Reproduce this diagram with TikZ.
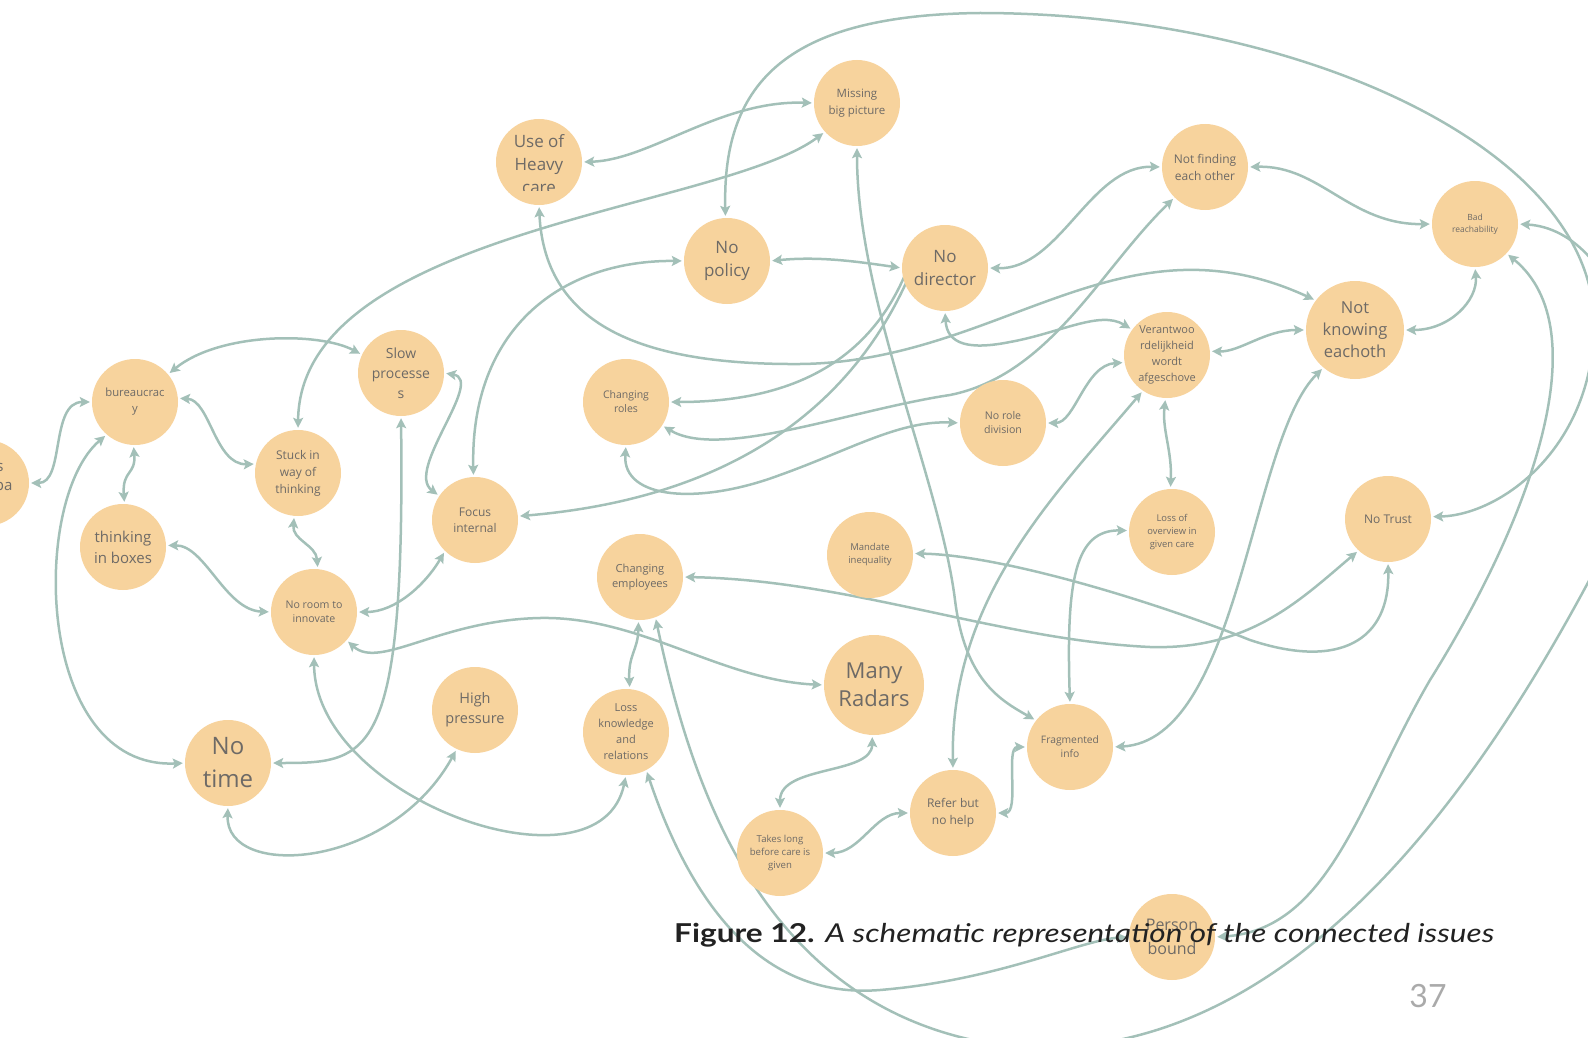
\documentclass[tikz,border=0pt]{standalone}
\usepackage{fontspec}
\setmainfont{Open Sans}
\newfontfamily\capfont{Lato}
\usetikzlibrary{arrows.meta}
\definecolor{nodefill}{HTML}{F7D39D}
\definecolor{edgecol}{HTML}{A3C0B8}
\definecolor{txtcol}{HTML}{6E6A66}
\definecolor{capcol}{HTML}{222222}
\definecolor{pagecol}{HTML}{AAAAAA}
\pgfdeclarelayer{bg}
\pgfsetlayers{bg,main}
\newcommand{\fsz}[2]{\fontsize{#1}{#2}\selectfont}
\begin{document}
\begin{tikzpicture}[x=1pt,y=-1pt,
 issue/.style={circle, fill=nodefill, minimum size=86pt, inner sep=0pt, text=txtcol, align=center},
 bigissue/.style={issue, minimum size=98pt},
 huge/.style={issue, minimum size=100pt},
 link/.style={draw=edgecol, line width=2.5pt, {Stealth[length=10pt,width=10pt,inset=2pt]}-{Stealth[length=10pt,width=10pt,inset=2pt]}, shorten <=2pt, shorten >=2pt}
]
\path[use as bounding box] (0,0) rectangle (1588,1038);
\clip (0,0) rectangle (1588,1038);

% nodes
\node[issue] (lft) at (-14,483) {};
\node[anchor=base east, text=txtcol, font=\fsz{15}{19}] (lfta) at (7,471) {s};
\node[anchor=base east, text=txtcol, font=\fsz{15}{19}] (lftb) at (16,490) {pa};
\node[issue, font=\fsz{11.3}{16}] (bur) at (135,402) {bureaucrac\\y};
\node[issue, font=\fsz{14}{20}] (slow) at (401,373) {Slow\\processe\\s};
\node[issue, font=\fsz{12}{17}] (stuck) at (298,473) {Stuck in\\way of\\thinking};
\node[issue, font=\fsz{15}{21}] (boxes) at (123,547) {thinking\\in boxes};
\node[issue, font=\fsz{10.6}{14.5}] (noroom) at (314,612) {No room to\\innovate};
\node[issue] (heavy) at (539,162) {};
\begin{scope}
\clip (490,110) rectangle (590,190);
\node[text=txtcol, align=center, font=\fsz{17}{23}] (heavytxt) at (539,164) {Use of\\Heavy\\care};
\end{scope}
\node[issue, font=\fsz{12}{16}] (focus) at (475,520) {Focus\\internal};
\node[issue, font=\fsz{11.5}{17}] (missing) at (857,103) {Missing\\big picture};
\node[issue, font=\fsz{17}{23}] (policy) at (727,261) {No\\policy};
\node[issue, font=\fsz{17}{23}] (director) at (945,268) {No\\director};
\node[issue, font=\fsz{12}{17}] (notfinding) at (1205,167) {Not finding\\each other};
\node[issue, font=\fsz{8.5}{12}] (bad) at (1475,224) {Bad\\reachability};
\node[bigissue, font=\fsz{16.5}{22}] (knowing) at (1355,330) {Not\\knowing\\eachoth};
\node[issue, font=\fsz{11}{16}] (verant) at (1167,355) {Verantwoo\\rdelijkheid\\wordt\\afgeschove};
\node[issue, font=\fsz{10.5}{14}] (roles) at (626,402) {Changing\\roles};
\node[issue, font=\fsz{10.6}{14}] (norole) at (1003,423) {No role\\division};
\node[issue, font=\fsz{9.5}{13}] (mandate) at (870,555) {Mandate\\inequality};
\node[issue, font=\fsz{11.1}{15}] (employees) at (640,577) {Changing\\employees};
\node[issue, font=\fsz{9.4}{13}] (lossover) at (1172,532) {Loss of\\overview in\\given care};
\node[issue, font=\fsz{12}{16}] (notrust) at (1388,519) {No Trust};
\node[huge, font=\fsz{22}{28}] (radars) at (874,685) {Many\\Radars};
\node[issue, font=\fsz{24}{33}] (notime) at (228,763) {No\\time};
\node[issue, font=\fsz{14.5}{20}] (pressure) at (475,710) {High\\pressure};
\node[issue, font=\fsz{11}{16}] (lossknow) at (626,732) {Loss\\knowledge\\and\\relations};
\node[issue, font=\fsz{9.6}{13.3}] (takes) at (780,853) {Takes long\\before care is\\given};
\node[issue, font=\fsz{12}{17}] (refer) at (953,813) {Refer but\\no help};
\node[issue, font=\fsz{10.3}{14}] (frag) at (1070,747) {Fragmented\\info};
\node[issue, font=\fsz{16}{24}] (person) at (1172,937) {Person\\bound};

% connectors
\begin{pgfonlayer}{bg}
\clip (0,0) rectangle (1588,1038);
\draw[link] (lft.0) .. controls (65,483) and (50,402) .. (bur.180);
\draw[link] (bur.40) .. controls (220,332) and (320,332) .. (slow.155);
\draw[link] (bur.5) .. controls (210,400) and (215,465) .. (stuck.168);
\draw[link] (bur.268) .. controls (136,475) and (122,470) .. (boxes.88);
\draw[link] (bur.229) .. controls (30,500) and (35,770) .. (notime.180);
\draw[link] (slow.0) .. controls (485,380) and (405,470) .. (focus.146);
\draw[link] (slow.270) .. controls (405,760) and (370,763) .. (notime.0);
\draw[link] (stuck.265) .. controls (292,540) and (316,545) .. (noroom.85);
\draw[link] (boxes.2) .. controls (205,545) and (225,610) .. (noroom.180);
\draw[link] (focus.226) .. controls (425,585) and (395,612) .. (noroom.0);
\draw[link] (missing.222) .. controls (720,210) and (300,230) .. (stuck.90);
\draw[link] (heavy.0) .. controls (650,160) and (720,100) .. (missing.180);
\draw[link] (heavy.270) .. controls (545,330) and (650,365) .. (800,364) .. controls (1000,362) and (1120,210) .. (knowing.143);
\draw[link] (policy.0) .. controls (820,256) and (860,262) .. (director.180);
\draw[link] (policy.92) .. controls (722,80) and (790,15) .. (980,13) .. controls (1300,13) and (1600,150) .. (1594,330) .. controls (1590,450) and (1500,515) .. (notrust.3);
\draw[link] (employees.291) .. controls (690,780) and (760,1010) .. (1000,1045) .. controls (1300,1080) and (1500,750) .. (1600,560) .. controls (1680,400) and (1620,230) .. (bad.0);
\draw[link] (lossknow.298) .. controls (690,900) and (760,1000) .. (880,990) .. controls (1000,980) and (1080,940) .. (person.180);
\draw[link] (person.0) .. controls (1330,930) and (1360,800) .. (1430,680) .. controls (1530,520) and (1600,330) .. (bad.317);
\draw[link] (missing.270) .. controls (857,300) and (940,480) .. (955,600) .. controls (965,680) and (1000,700) .. (frag.142);
\draw[link] (verant.5) .. controls (1240,352) and (1265,330) .. (knowing.180);
\draw[link] (knowing.0) .. controls (1450,330) and (1478,300) .. (bad.270);
\draw[link] (notfinding.0) .. controls (1320,165) and (1350,225) .. (bad.180);
\draw[link] (director.0) .. controls (1060,270) and (1090,165) .. (notfinding.180);
\draw[link] (director.270) .. controls (947,345) and (970,350) .. (1010,342) .. controls (1060,333) and (1100,310) .. (verant.144);
\draw[link] (verant.268) .. controls (1162,430) and (1172,450) .. (lossover.92);
\draw[link] (norole.0) .. controls (1075,423) and (1085,365) .. (verant.190);
\draw[link] (lossover.178) .. controls (1075,530) and (1066,580) .. (frag.90);
\draw[link] (mandate.2) .. controls (1000,555) and (1150,600) .. (1250,640) .. controls (1340,670) and (1390,640) .. (notrust.270);
\draw[link] (employees.0) .. controls (850,580) and (1000,640) .. (1150,647) .. controls (1250,650) and (1300,600) .. (notrust.227);
\draw[link] (noroom.319) .. controls (380,670) and (440,620) .. (540,618) .. controls (640,616) and (720,680) .. (radars.180);
\draw[link] (radars.268) .. controls (872,775) and (780,765) .. (takes.90);
\draw[link] (takes.0) .. controls (860,853) and (875,813) .. (refer.180);
\draw[link] (refer.0) .. controls (1020,813) and (1005,747) .. (frag.180);
\draw[link] (verant.236) .. controls (1050,500) and (950,600) .. (refer.90);
\draw[link] (knowing.230) .. controls (1250,440) and (1240,740) .. (frag.0);
\draw[link] (employees.268) .. controls (638,650) and (628,655) .. (lossknow.85);
\draw[link] (noroom.270) .. controls (315,800) and (600,900) .. (lossknow.270);
\draw[link] (notime.270) .. controls (225,880) and (390,870) .. (pressure.245);
\draw[link] (policy.180) .. controls (560,260) and (470,330) .. (focus.92);
\draw[link] (roles.0) .. controls (780,402) and (880,370) .. (director.127);
\draw[link] (focus.5) .. controls (650,505) and (850,460) .. (director.115);
\draw[link] (roles.270) .. controls (622,500) and (700,505) .. (780,475) .. controls (850,450) and (900,420) .. (norole.180);
\draw[link] (roles.327) .. controls (720,460) and (850,410) .. (950,395) .. controls (1050,375) and (1100,270) .. (notfinding.225);
\end{pgfonlayer}

% caption
\node[anchor=base west, text=capcol, font=\capfont\fsz{26}{30}, inner sep=0pt] (cap) at (674,942) {\scalebox{1.215}[1]{\textbf{Figure 12.} \textit{A schematic representation of the connected issues}}};
\node[text=pagecol, font=\capfont\fsz{32}{36}, inner sep=0pt] (pg) at (1428,996) {37};
\end{tikzpicture}
\end{document}
